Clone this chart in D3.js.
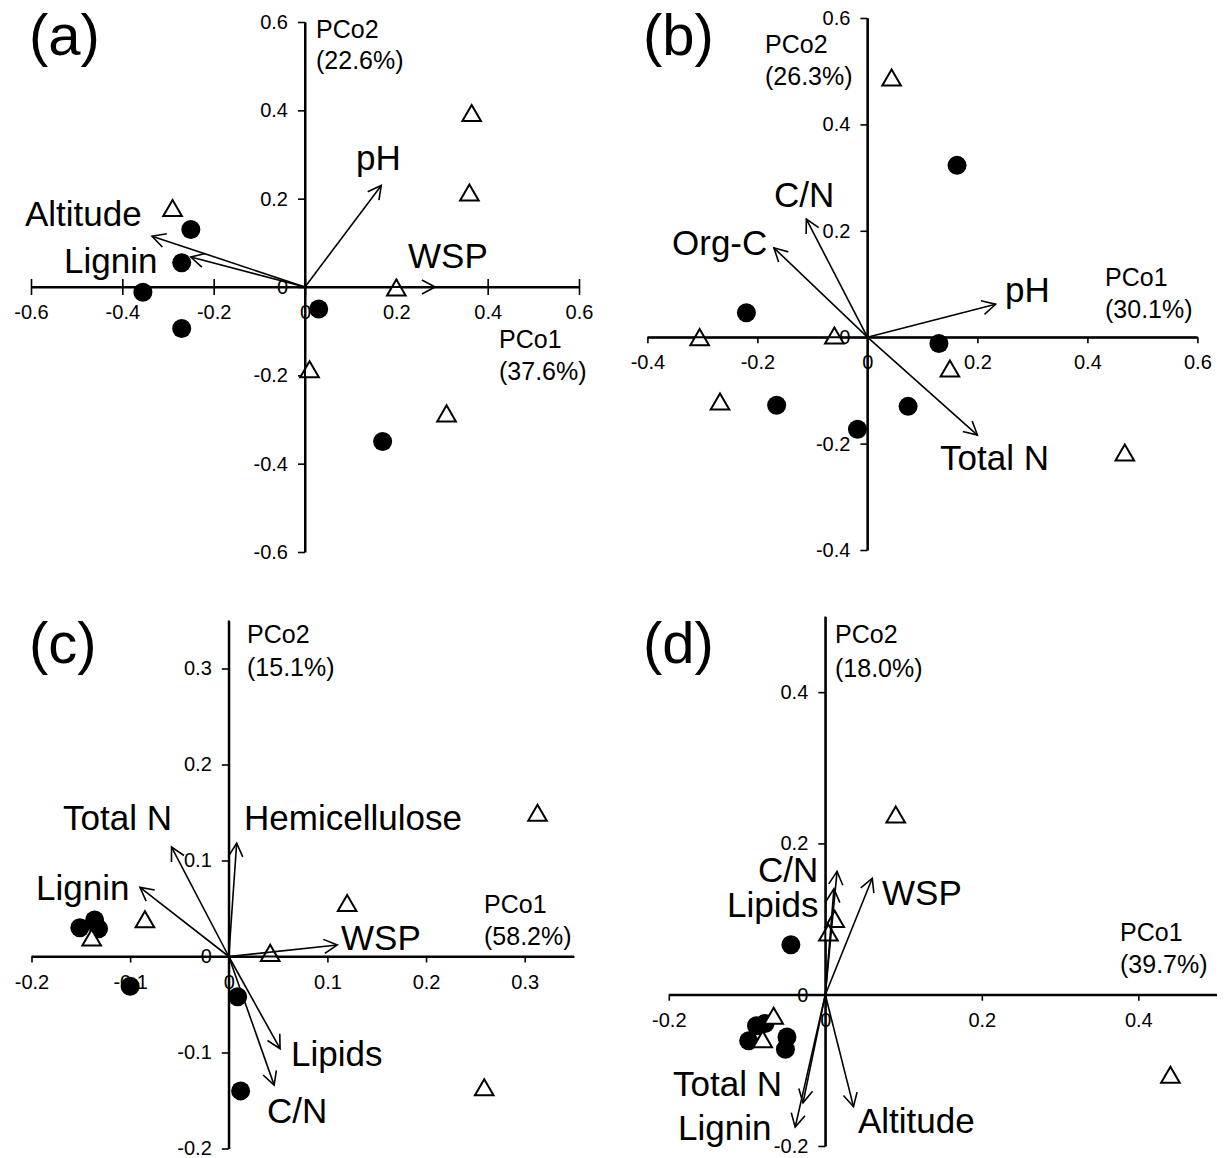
<!DOCTYPE html>
<html>
<head>
<meta charset="utf-8">
<script src="https://cdn.jsdelivr.net/npm/d3@7"></script>
<style>
  html, body { margin: 0; padding: 0; background: #fff; }
  svg { display: block; }
</style>
</head>
<body>
<svg id="chart" width="1228" height="1158"></svg>
<script>
// ---------------- DATA ----------------
const panelLabels = ["(a)", "(b)", "(c)", "(d)"];

// Panel (a)
const aAxisTitles = ["PCo1", "(37.6%)", "PCo2", "(22.6%)"];
const aXTicks = [-0.6, -0.4, -0.2, 0, 0.2, 0.4, 0.6];
const aYTicks = [-0.6, -0.4, -0.2, 0, 0.2, 0.4, 0.6];
const aCircles = [[-0.25, 0.13], [-0.27, 0.055], [-0.355, -0.012], [-0.27, -0.094], [0.03, -0.05], [0.17, -0.35]];
const aTriangles = [[0.365, 0.39], [0.36, 0.21], [-0.29, 0.175], [0.2, -0.005], [0.01, -0.19], [0.31, -0.29]];
const aVectorNames = ["pH", "WSP", "Altitude", "Lignin"];
const aVectorX = [0.167, 0.285, -0.335, -0.25];
const aVectorY = [0.23, 0.0, 0.115, 0.068];

// Panel (b)
const bAxisTitles = ["PCo1", "(30.1%)", "PCo2", "(26.3%)"];
const bXTicks = [-0.4, -0.2, 0, 0.2, 0.4, 0.6];
const bYTicks = [-0.4, -0.2, 0, 0.2, 0.4, 0.6];
const bCircles = [[0.163, 0.323], [-0.22, 0.046], [0.13, -0.012], [-0.165, -0.128], [0.074, -0.13], [-0.018, -0.173]];
const bTriangles = [[0.044, 0.485], [-0.305, -0.003], [-0.06, 0.0], [0.15, -0.062], [-0.268, -0.124], [0.468, -0.22]];
const bVectorNames = ["C/N", "Org-C", "pH", "Total N"];
const bVectorX = [-0.111, -0.17, 0.233, 0.2];
const bVectorY = [0.222, 0.168, 0.062, -0.184];

// Panel (c)
const cAxisTitles = ["PCo1", "(58.2%)", "PCo2", "(15.1%)"];
const cXTicks = [-0.2, -0.1, 0, 0.1, 0.2, 0.3];
const cYTicks = [-0.2, -0.1, 0, 0.1, 0.2, 0.3];
const cCircles = [[-0.151, 0.030], [-0.136, 0.038], [-0.132, 0.029], [-0.100, -0.031], [0.009, -0.042], [0.012, -0.14]];
const cTriangles = [[0.313, 0.148], [-0.085, 0.037], [0.12, 0.054], [-0.139, 0.018], [0.042, 0.002], [0.259, -0.138]];
const cVectorNames = ["Total N", "Hemicellulose", "Lignin", "WSP", "Lipids", "C/N"];
const cVectorX = [-0.058, 0.008, -0.09, 0.11, 0.052, 0.046];
const cVectorY = [0.114, 0.118, 0.072, 0.012, -0.096, -0.134];

// Panel (d)
const dAxisTitles = ["PCo1", "(39.7%)", "PCo2", "(18.0%)"];
const dXTicks = [-0.2, 0, 0.2, 0.4];
const dYTicks = [-0.2, 0, 0.2, 0.4];
const dCircles = [[-0.044, 0.066], [-0.098, -0.061], [-0.088, -0.041], [-0.077, -0.038], [-0.049, -0.056], [-0.051, -0.072]];
const dTriangles = [[0.09, 0.236], [0.012, 0.098], [0.004, 0.08], [-0.066, -0.030], [-0.080, -0.061], [0.441, -0.108]];
const dVectorNames = ["C/N", "Lipids", "WSP", "Total N", "Lignin", "Altitude"];
const dVectorX = [0.015, 0.011, 0.06, -0.0285, -0.0385, 0.036];
const dVectorY = [0.163, 0.14, 0.154, -0.143, -0.175, -0.148];

// ---------------- LAYOUT ----------------
const FONT = "'Liberation Sans', Arial, Helvetica, sans-serif";
const layouts = [
  { xDom: [-0.6, 0.6], xRng: [31, 579], yDom: [-0.6, 0.6], yRng: [552, 22], crossTicks: true,
    panelPos: [29, 55], x1Pos: [499, 348], x2Pos: [499, 380], y1Pos: [316, 38], y2Pos: [316, 69],
    vecLabelPos: [[356, 170], [408, 268], [25, 226], [64, 273]] },
  { xDom: [-0.4, 0.6], xRng: [647.4, 1197.4], yDom: [-0.4, 0.6], yRng: [550, 18], crossTicks: false,
    panelPos: [643, 55], x1Pos: [1105, 286], x2Pos: [1105, 318], y1Pos: [765, 53], y2Pos: [765, 85],
    vecLabelPos: [[774, 207], [672, 255], [1005, 302], [940, 470]] },
  { xDom: [-0.2, 0.35], xRng: [31.5, 574], yDom: [-0.2, 0.35], yRng: [1148.5, 620.5], crossTicks: false,
    panelPos: [29, 663], x1Pos: [484, 913], x2Pos: [484, 945], y1Pos: [247, 643], y2Pos: [247, 676],
    vecLabelPos: [[63, 830], [244, 830], [36, 900], [341, 950], [291, 1066], [267, 1123]] },
  { xDom: [-0.2, 0.5], xRng: [668.8, 1216.6], yDom: [-0.2, 0.5], yRng: [1146, 616.5], crossTicks: false,
    panelPos: [643, 663], x1Pos: [1120, 941], x2Pos: [1120, 973], y1Pos: [835, 643], y2Pos: [835, 677],
    vecLabelPos: [[758, 882], [727, 917], [882, 905], [673, 1096], [678, 1140], [858, 1133]] }
];

const panels = [
  { title: aAxisTitles, xt: aXTicks, yt: aYTicks, circles: aCircles, tris: aTriangles, vn: aVectorNames, vx: aVectorX, vy: aVectorY },
  { title: bAxisTitles, xt: bXTicks, yt: bYTicks, circles: bCircles, tris: bTriangles, vn: bVectorNames, vx: bVectorX, vy: bVectorY },
  { title: cAxisTitles, xt: cXTicks, yt: cYTicks, circles: cCircles, tris: cTriangles, vn: cVectorNames, vx: cVectorX, vy: cVectorY },
  { title: dAxisTitles, xt: dXTicks, yt: dYTicks, circles: dCircles, tris: dTriangles, vn: dVectorNames, vx: dVectorX, vy: dVectorY }
];

const svg = d3.select("#chart");
const fmt = v => (v === 0 ? "0" : String(v));

panels.forEach((p, i) => {
  const L = layouts[i];
  const x = d3.scaleLinear().domain(L.xDom).range(L.xRng);
  const y = d3.scaleLinear().domain(L.yDom).range(L.yRng);
  const g = svg.append("g").attr("font-family", FONT);

  // axes (ticks + labels) first
  const xAxis = d3.axisBottom(x).tickValues(p.xt).tickFormat(fmt).tickSizeInner(6).tickSizeOuter(0).tickPadding(12);
  const yAxis = d3.axisLeft(y).tickValues(p.yt).tickFormat(fmt).tickSizeInner(7).tickSizeOuter(0).tickPadding(10);
  const gx = g.append("g").attr("transform", `translate(0,${y(0)})`).call(xAxis);
  const gy = g.append("g").attr("transform", `translate(${x(0)},0)`).call(yAxis);
  [gx, gy].forEach(a => {
    a.select(".domain").attr("stroke", "#000").attr("stroke-width", 2);
    a.selectAll(".tick line").attr("stroke", "#000").attr("stroke-width", 1.6);
    a.selectAll(".tick text").attr("font-family", FONT).attr("font-size", 20).attr("fill", "#000");
  });
  if (L.crossTicks) gx.selectAll(".tick line").attr("y1", -8).attr("y2", 8);

  // points: circles
  g.append("g").selectAll("circle").data(p.circles).join("circle")
    .attr("cx", d => x(d[0])).attr("cy", d => y(d[1])).attr("r", 9.5).attr("fill", "#000");

  // points: triangles
  const tri = d3.symbol().type(d3.symbolTriangle).size(150);
  g.append("g").selectAll("path").data(p.tris).join("path")
    .attr("d", tri)
    .attr("transform", d => `translate(${x(d[0])},${y(d[1]) + 1})`)
    .attr("fill", "#fff").attr("stroke", "#000").attr("stroke-width", 2);

  // axis lines redrawn on top of the markers
  g.append("line").attr("x1", L.xRng[0]).attr("x2", L.xRng[1]).attr("y1", y(0)).attr("y2", y(0))
    .attr("stroke", "#000").attr("stroke-width", 2);
  g.append("line").attr("x1", x(0)).attr("x2", x(0)).attr("y1", L.yRng[0]).attr("y2", L.yRng[1])
    .attr("stroke", "#000").attr("stroke-width", 2);

  // vectors (arrows)
  const vec = p.vn.map((n, k) => ({ name: n, vx: p.vx[k], vy: p.vy[k] }));
  const ag = g.append("g").attr("stroke", "#000").attr("stroke-width", 1.6).attr("fill", "none");
  ag.selectAll("line").data(vec).join("line")
    .attr("x1", x(0)).attr("y1", y(0))
    .attr("x2", d => x(d.vx)).attr("y2", d => y(d.vy));
  const headLen = 15, headAng = 28 * Math.PI / 180;
  ag.selectAll("path").data(vec).join("path")
    .attr("d", d => {
      const tx = x(d.vx), ty = y(d.vy);
      const ang = Math.atan2(ty - y(0), tx - x(0));
      const a1 = ang + Math.PI - headAng, a2 = ang + Math.PI + headAng;
      return `M${tx + headLen * Math.cos(a1)},${ty + headLen * Math.sin(a1)}L${tx},${ty}L${tx + headLen * Math.cos(a2)},${ty + headLen * Math.sin(a2)}`;
    })
    .attr("stroke-linejoin", "miter");

  // vector labels
  g.append("g").selectAll("text").data(vec).join("text")
    .attr("x", (d, k) => L.vecLabelPos[k][0]).attr("y", (d, k) => L.vecLabelPos[k][1])
    .attr("font-size", 35).attr("fill", "#000").text(d => d.name);

  // axis titles
  const titles = [[p.title[0], L.x1Pos], [p.title[1], L.x2Pos], [p.title[2], L.y1Pos], [p.title[3], L.y2Pos]];
  g.append("g").selectAll("text").data(titles).join("text")
    .attr("x", d => d[1][0]).attr("y", d => d[1][1])
    .attr("font-size", 25).attr("fill", "#000").text(d => d[0]);

  // panel label
  g.append("text").attr("x", L.panelPos[0]).attr("y", L.panelPos[1])
    .attr("font-size", 58).attr("fill", "#000").text(panelLabels[i]);
});
</script>
</body>
</html>
